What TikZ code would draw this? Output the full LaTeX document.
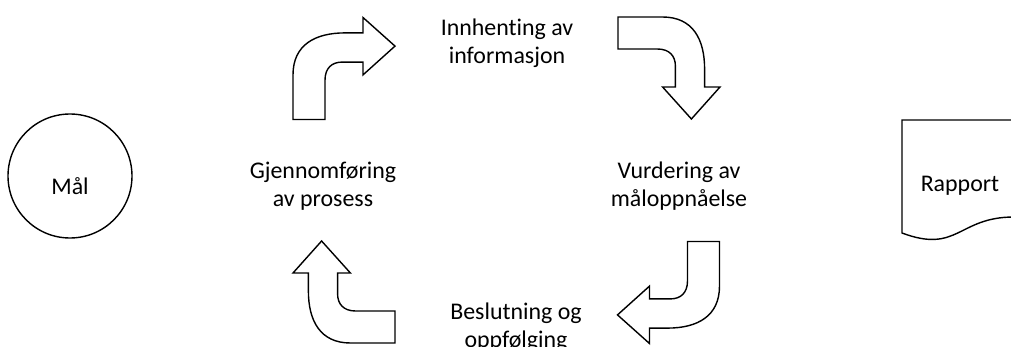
\documentclass[tikz,border=0pt]{standalone}
\usepackage{fontspec}
\setmainfont{Carlito}[Ligatures=NoCommon]
% bent block arrow, #1 = centre, #2 = rotation
\newcommand{\bendarrow}[2]{%
  \draw[block,shift={#1},rotate=#2] (-1.275,-1.275) -- (-1.275,-0.16)
    .. controls (-1.275,0.59) and (-0.725,0.89) .. (0.025,0.89)
    -- (0.475,0.89) -- (0.475,1.275) -- (1.275,0.56) -- (0.475,-0.16)
    -- (0.475,0.16) -- (-0.05,0.16)
    .. controls (-0.3,0.16) and (-0.475,0.0125) .. (-0.475,-0.29)
    -- (-0.475,-1.275) -- cycle;}
\begin{document}
\begin{tikzpicture}[block/.style={draw=black,line width=1pt},
  phase/.style={align=center,font=\fontsize{17}{20}\selectfont}]
\useasboundingbox (0,0) rectangle (25.275,8.65);
\clip (0,0) rectangle (25.275,8.65);
% goal
\draw[block] (1.75,4.25) circle (1.55);
\node[phase] (mal) at (1.75,4.0) {Mål};
% the cycle
\node[phase] (innhenting) at (12.675,7.56) {Innhenting av\\informasjon};
\node[phase] (vurdering) at (16.975,4.0) {Vurdering av\\måloppnåelse};
\node[phase] (beslutning) at (12.9,0.47) {Beslutning og\\oppfølging};
\node[phase] (gjennomforing) at (8.075,4.0) {Gjennomføring\\av prosess};
\bendarrow{(8.6,6.9375)}{0}
\bendarrow{(16.725,6.95)}{-90}
\bendarrow{(16.7125,1.3375)}{180}
\bendarrow{(8.6,1.35)}{90}
% report
\draw[block] (25.35,3.225) .. controls (23.95,3.225) and (23.95,2.3) .. (22.55,2.825)
  -- (22.55,5.65) -- (25.35,5.65);
\node[phase] (rapport) at (24.0,4.0) {Rapport};
\end{tikzpicture}
\end{document}
